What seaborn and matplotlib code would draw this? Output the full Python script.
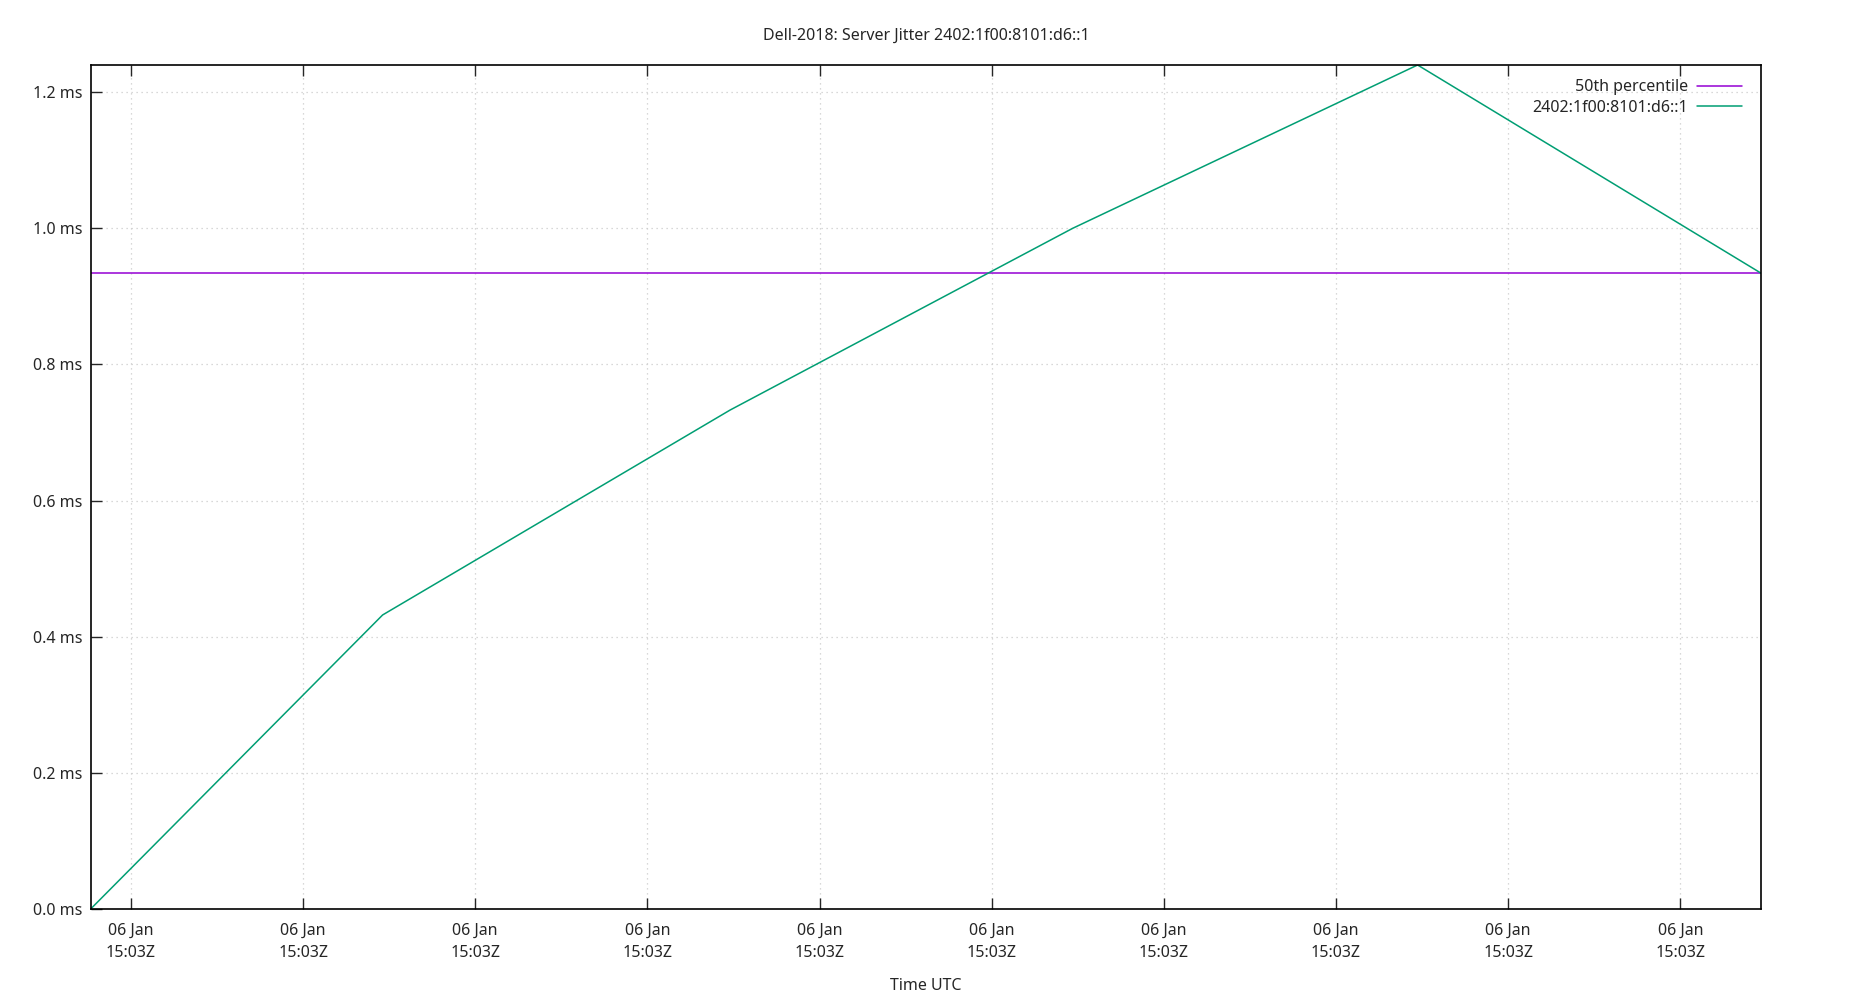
import seaborn as sns
import matplotlib.pyplot as plt
import matplotlib.dates as mdates
import pandas as pd

# jitter samples (ms), times
times = ["2024-01-06 15:03:08.83", "2024-01-06 15:03:17.31", "2024-01-06 15:03:27.40",
         "2024-01-06 15:03:37.35", "2024-01-06 15:03:47.37", "2024-01-06 15:03:57.35"]
jitter = [0.0, 0.432, 0.733, 1.0, 1.24, 0.934]
median = 0.934
server = "2402:1f00:8101:d6::1"
xticks = ["2024-01-06 15:03:%02d" % s for s in range(10, 60, 5)]
yticks = [0.0, 0.2, 0.4, 0.6, 0.8, 1.0, 1.2]

df = pd.DataFrame({"time": pd.to_datetime(times), "jitter": jitter})

sns.set_style("white")
plt.rcParams["font.family"] = ["Noto Sans", "DejaVu Sans"]

fig = plt.figure(figsize=(18.5, 10), dpi=100)
ax = fig.add_axes([0.049, 0.091, 0.903, 0.844])

ax.axhline(median, color="#9400d3", lw=1.1, label="50th percentile")
sns.lineplot(x="time", y="jitter", data=df, ax=ax, color="#009e73", lw=1.1,
             label=server)

ax.set_xlim(df["time"].iloc[0], df["time"].iloc[-1])
ax.set_ylim(0, max(jitter))
ax.set_xticks(pd.to_datetime(xticks))
ax.xaxis.set_major_formatter(mdates.DateFormatter("%d %b\n%H:%MZ"))
for lbl in ax.get_xticklabels():
    lbl.set_linespacing(1.55)
ax.set_yticks(yticks)
ax.set_yticklabels(["%.1f ms" % v for v in yticks])

ax.grid(True, color="#cccccc", linestyle=(0, (1, 3)), lw=0.9)
for s in ax.spines.values():
    s.set_visible(True)
    s.set_color("black")
    s.set_linewidth(1.2)
ax.tick_params(axis="x", direction="in", length=8, width=1, top=True, bottom=True,
               labelsize=11.5, pad=10)
ax.tick_params(axis="y", direction="in", length=8, width=1, left=True, right=False,
               labelsize=11.5, pad=6)

ax.set_xlabel("Time UTC", fontsize=11.5, labelpad=12)
ax.set_ylabel("")
ax.set_title("Dell-2018: Server Jitter " + server, fontsize=11.5, pad=18)

ax.legend(loc="upper right", bbox_to_anchor=(1, 1.006), frameon=False,
          markerfirst=False, fontsize=11.5, handlelength=2.8, borderaxespad=0.8,
          labelspacing=0.3, handletextpad=0.6)

fig.savefig("out.png", dpi=100)
